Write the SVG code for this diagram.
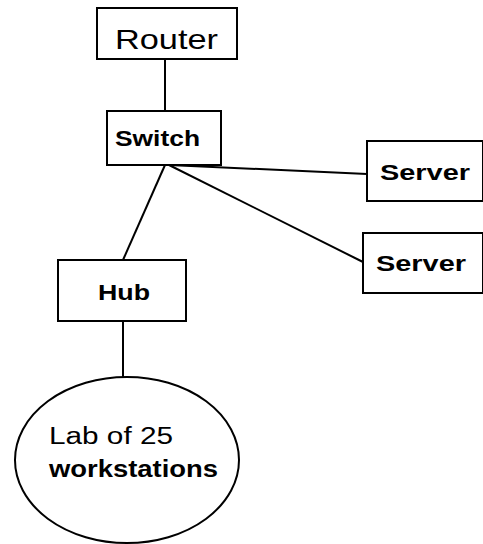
<svg xmlns="http://www.w3.org/2000/svg" width="483" height="544" viewBox="0 0 483 544">
<style>
.box{fill:#fff;stroke:#000;stroke-width:2}
.conn line{stroke:#000;stroke-width:2}
text{font-family:"Liberation Sans",Arial,sans-serif;fill:#000}
.b{font-weight:bold}
</style>
<rect width="483" height="544" fill="#fff"/>
<g id="connectors" class="conn">
<line x1="165" y1="59" x2="165" y2="111"/>
<line x1="169" y1="165" x2="367" y2="174"/>
<line x1="169" y1="165" x2="363" y2="262"/>
<line x1="165" y1="165" x2="123" y2="260"/>
<line x1="123" y1="321" x2="123" y2="377"/>
</g>
<g id="router">
<rect class="box" x="97" y="8" width="140" height="51"/>
<text x="115" y="49" font-size="28" textLength="103" lengthAdjust="spacingAndGlyphs">Router</text>
</g>
<g id="switch">
<rect class="box" x="107" y="111" width="114" height="54"/>
<text class="b" x="115" y="146" font-size="22" textLength="85" lengthAdjust="spacingAndGlyphs">Switch</text>
</g>
<g id="server1">
<rect class="box" x="367" y="141" width="116" height="60"/>
<text class="b" x="380" y="180" font-size="22" textLength="90" lengthAdjust="spacingAndGlyphs">Server</text>
</g>
<g id="server2">
<rect class="box" x="363" y="233" width="120" height="60"/>
<text class="b" x="376" y="271" font-size="22" textLength="90" lengthAdjust="spacingAndGlyphs">Server</text>
</g>
<g id="hub">
<rect class="box" x="58" y="260" width="128" height="61"/>
<text class="b" x="98" y="300" font-size="22" textLength="52" lengthAdjust="spacingAndGlyphs">Hub</text>
</g>
<g id="lab">
<ellipse class="box" cx="127" cy="460" rx="112" ry="83"/>
<text x="49" y="444" font-size="23" textLength="124" lengthAdjust="spacingAndGlyphs">Lab of 25</text>
<text class="b" x="49" y="477" font-size="23" textLength="169" lengthAdjust="spacingAndGlyphs">workstations</text>
</g>
</svg>
